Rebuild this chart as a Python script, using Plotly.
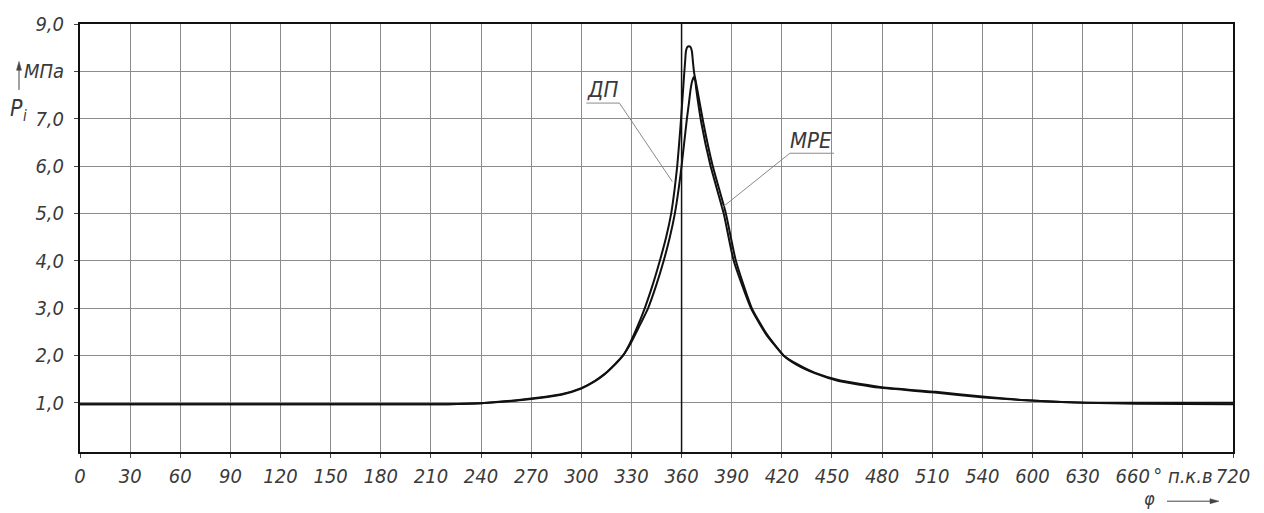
import plotly.graph_objects as go

# ---- data (axis position in degrees, pressure in MPa) ----
dp_phi = [0, 60, 120, 180, 220, 240, 260, 275, 288, 300, 308, 314, 320, 325, 329, 333.5,
          338, 342.8, 347, 350.8, 353.8, 355.8, 357.4, 358.6, 359.7, 360.7, 361.6, 362.2,
          362.6, 363.4, 364.4, 365.4, 366.2, 366.8, 367.6, 369.4, 373, 378.5, 386.5, 392.5,
          402, 411, 421, 429, 440, 454, 478, 510, 541, 572, 602, 632, 690]
dp_p = [0.97, 0.97, 0.97, 0.97, 0.97, 0.99, 1.04, 1.10, 1.17, 1.30, 1.45, 1.60, 1.80, 2.00, 2.25, 2.60,
        3.00, 3.50, 4.00, 4.50, 5.00, 5.50, 6.00, 6.50, 7.00, 7.50, 7.96, 8.24,
        8.42, 8.51, 8.53, 8.51, 8.42, 8.20, 7.95, 7.62, 6.92, 6.02, 5.00, 4.00,
        3.00, 2.45, 2.00, 1.80, 1.62, 1.46, 1.32, 1.22, 1.11, 1.04, 1.00, 1.00, 1.00]

mpe_phi = [0, 60, 120, 180, 220, 240, 260, 275, 288, 300, 308, 314, 320, 325, 329, 334.5,
           340, 345, 349.3, 353, 356, 358.2, 360, 361.6, 363.2, 364.3, 365.4, 366.4, 367.4,
           368.2, 368.8, 371.8, 377.2, 385.2, 391.2, 401.5, 410.5, 421, 429, 440, 455,
           480, 512, 543, 572, 602, 632, 690]
mpe_p = [0.97, 0.97, 0.97, 0.97, 0.97, 0.99, 1.05, 1.11, 1.18, 1.31, 1.46, 1.61, 1.81, 2.00, 2.22, 2.60,
         3.00, 3.50, 4.00, 4.50, 5.00, 5.50, 6.00, 6.50, 7.00, 7.30, 7.62, 7.80, 7.88,
         7.80, 7.62, 6.92, 6.02, 5.00, 4.00, 3.00, 2.45, 2.00, 1.82, 1.63, 1.47,
         1.33, 1.23, 1.12, 1.04, 1.00, 0.98, 0.97]

x_tickvals = list(range(0, 691, 30))
x_ticktext = ["0", "30", "60", "90", "120", "150", "180", "210", "240", "270", "300", "330",
              "360", "390", "420", "450", "480", "510", "540", "600", "630", "660",
              "° п.к.в", "720"]
y_tickvals = [1, 2, 3, 4, 5, 6, 7, 8, 9]
y_ticktext = ["1,0", "2,0", "3,0", "4,0", "5,0", "6,0", "7,0", "МПа", "9,0"]

FONT = "DejaVu Sans Condensed, DejaVu Sans, sans-serif"
TXT = "#3a3a3a"

W, H = 1264, 513
ML, MR, MT, MB = 80, 31, 17, 61


def px(xp):
    return (xp - ML) / (W - ML - MR)


def py(yp):
    return (H - MB - yp) / (H - MT - MB)


fig = go.Figure()
fig.add_trace(go.Scatter(x=dp_phi, y=dp_p, mode="lines", name="ДП",
                         line=dict(color="#111111", width=2, shape="spline", smoothing=0.5)))
fig.add_trace(go.Scatter(x=mpe_phi, y=mpe_p, mode="lines", name="МРЕ",
                         line=dict(color="#111111", width=2, shape="spline", smoothing=0.5)))

axis_common = dict(showline=True, linecolor="#111111", linewidth=2, mirror=True,
                   showgrid=True, gridcolor="#8c8c8c", gridwidth=1,
                   ticks="outside", ticklen=4, tickcolor="#444444", zeroline=False,
                   tickfont=dict(family=FONT, size=20, color=TXT, style="italic"))

fig.update_xaxes(range=[0, 690], tickmode="array", tickvals=x_tickvals, ticktext=x_ticktext,
                 ticklabelstandoff=1, **axis_common)
fig.update_yaxes(range=[-0.04, 9.0], tickmode="array", tickvals=y_tickvals, ticktext=y_ticktext,
                 ticklabelstandoff=6, **axis_common)

# TDC line
fig.add_shape(type="line", x0=360, x1=360, y0=-0.04, y1=9.0, xref="x", yref="y",
              line=dict(color="#111111", width=1.5), layer="above")

# leader lines
lead = dict(color="#8a8a8a", width=1)
fig.add_shape(type="line", x0=303, x1=322.8, y0=7.33, y1=7.33, line=lead)
fig.add_shape(type="line", x0=322.8, x1=354.5, y0=7.33, y1=5.67, line=lead)
fig.add_shape(type="line", x0=424.8, x1=451.2, y0=6.27, y1=6.27, line=lead)
fig.add_shape(type="line", x0=424.8, x1=384.5, y0=6.27, y1=5.13, line=lead)

fig.add_annotation(x=312.6, y=7.62, text="ДП", showarrow=False,
                   font=dict(family=FONT, size=22, color=TXT, style="italic"))
fig.add_annotation(x=437.4, y=6.54, text="МРЕ", showarrow=False,
                   font=dict(family=FONT, size=22, color=TXT, style="italic"))

# Y axis label with arrow
arrow_line = dict(color="#444444", width=1)
fig.add_shape(type="line", xref="paper", yref="paper", x0=px(19), x1=px(19), y0=py(84), y1=py(60),
              line=arrow_line)
fig.add_shape(type="path", xref="paper", yref="paper",
              path=f"M {px(16.5)},{py(64)} L {px(19)},{py(55)} L {px(21.5)},{py(64)} Z",
              fillcolor="#444444", line=dict(color="#444444", width=0.5))
fig.add_annotation(xref="paper", yref="paper", x=px(16), y=py(102), xanchor="center", yanchor="middle",
                   text="P", showarrow=False,
                   font=dict(family=FONT, size=23, color=TXT, style="italic"))
fig.add_annotation(xref="paper", yref="paper", x=px(25), y=py(111), xanchor="center", yanchor="middle",
                   text="i", showarrow=False,
                   font=dict(family=FONT, size=15, color=TXT, style="italic"))

# X axis label with arrow
fig.add_annotation(xref="paper", yref="paper", x=px(1149), y=py(499), xanchor="center", yanchor="middle",
                   text="φ", showarrow=False, font=dict(family=FONT, size=18, color=TXT, style="italic"))
fig.add_shape(type="line", xref="paper", yref="paper", x0=px(1167), x1=px(1212), y0=py(502), y1=py(502),
              line=arrow_line)
fig.add_shape(type="path", xref="paper", yref="paper",
              path=f"M {px(1210)},{py(499.5)} L {px(1219)},{py(502)} L {px(1210)},{py(504.5)} Z",
              fillcolor="#444444", line=dict(color="#444444", width=0.5))

fig.update_layout(width=W, height=H, margin=dict(l=ML, r=MR, t=MT, b=MB),
                  paper_bgcolor="white", plot_bgcolor="white", showlegend=False,
                  font=dict(family=FONT, color=TXT))

fig.write_html("out.html")
